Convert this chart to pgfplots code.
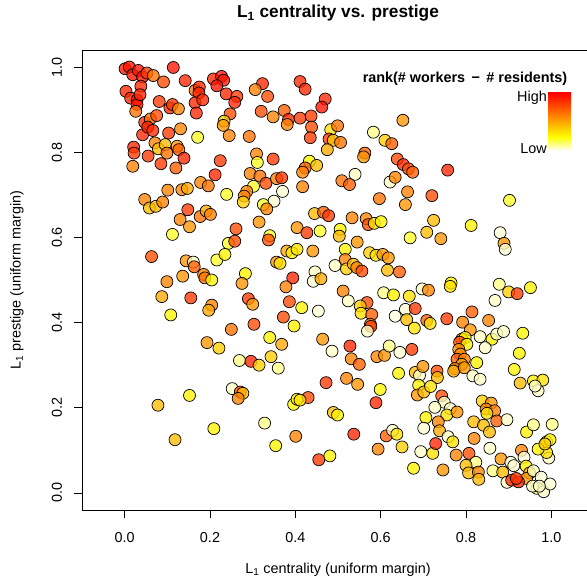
\documentclass[border=0pt]{standalone}
\usepackage{pgfplots}
\pgfplotsset{compat=1.18}
\usepackage{pgfplotstable}
\usepackage{fontspec}
\setmainfont{Liberation Sans}
\pgfdeclareverticalshading{heatbar}{100bp}{rgb(0bp)=(1,1,1); rgb(25bp)=(1,1,1); rgb(37bp)=(1,1,0); rgb(75bp)=(1,0,0); rgb(100bp)=(1,0,0)}
\pgfplotstableread{
x y c
0.114 0.999 0.95
0.001 0.996 0.95
0.011 1.000 0.95
0.019 0.982 0.95
0.032 0.992 0.95
0.042 0.977 0.95
0.052 0.986 0.85
0.067 0.980 0.70
0.091 0.965 0.80
0.142 0.968 0.90
0.208 0.972 0.90
0.227 0.978 0.95
0.232 0.969 0.95
0.216 0.956 0.95
0.003 0.943 0.90
0.038 0.955 0.90
0.014 0.927 0.90
0.029 0.923 0.95
0.029 0.912 0.95
0.026 0.896 0.70
0.036 0.935 0.90
0.081 0.919 0.85
0.106 0.904 0.90
0.112 0.912 0.85
0.126 0.902 0.65
0.165 0.945 0.70
0.175 0.953 0.90
0.174 0.939 0.90
0.165 0.916 0.90
0.183 0.923 0.90
0.168 0.892 0.90
0.238 0.937 0.90
0.263 0.931 0.85
0.258 0.917 0.90
0.323 0.961 0.90
0.306 0.947 0.65
0.335 0.931 0.80
0.320 0.896 0.80
0.348 0.883 0.65
0.374 0.898 0.75
0.384 0.877 0.90
0.381 0.865 0.65
0.247 0.890 0.80
0.233 0.873 0.45
0.231 0.863 0.60
0.047 0.870 0.90
0.060 0.878 0.70
0.075 0.886 0.80
0.042 0.841 0.90
0.054 0.859 0.90
0.066 0.851 0.90
0.103 0.845 0.85
0.131 0.855 0.65
0.171 0.835 0.30
0.245 0.839 0.65
0.292 0.837 0.70
0.021 0.812 0.90
0.022 0.798 0.85
0.019 0.767 0.65
0.071 0.822 0.65
0.079 0.808 0.50
0.095 0.818 0.50
0.099 0.798 0.70
0.123 0.814 0.60
0.127 0.806 0.75
0.055 0.791 0.85
0.085 0.773 0.85
0.120 0.763 0.75
0.139 0.786 0.90
0.224 0.780 0.85
0.212 0.747 0.90
0.309 0.796 0.65
0.348 0.784 0.85
0.311 0.776 0.30
0.294 0.750 0.65
0.317 0.744 0.70
0.331 0.727 0.80
0.356 0.738 0.65
0.368 0.740 0.85
0.302 0.720 0.30
0.286 0.708 0.65
0.280 0.697 0.65
0.278 0.683 0.45
0.239 0.701 0.30
0.350 0.685 0.15
0.370 0.708 0.15
0.325 0.677 0.30
0.333 0.667 0.65
0.101 0.711 0.65
0.134 0.712 0.65
0.147 0.715 0.55
0.178 0.729 0.65
0.196 0.721 0.70
0.047 0.689 0.65
0.058 0.669 0.50
0.073 0.673 0.50
0.089 0.683 0.65
0.148 0.665 0.85
0.130 0.642 0.65
0.152 0.625 0.60
0.177 0.649 0.70
0.191 0.662 0.55
0.201 0.654 0.65
0.112 0.607 0.30
0.261 0.620 0.80
0.315 0.636 0.60
0.340 0.604 0.30
0.337 0.594 0.80
0.243 0.586 0.30
0.258 0.591 0.80
0.404 0.623 0.60
0.411 0.966 0.90
0.423 0.948 0.90
0.470 0.925 0.90
0.462 0.906 0.95
0.411 0.880 0.85
0.437 0.885 0.85
0.438 0.859 0.80
0.435 0.834 0.85
0.483 0.853 0.40
0.499 0.862 0.70
0.479 0.831 0.85
0.489 0.828 0.45
0.506 0.823 0.70
0.475 0.806 0.55
0.652 0.875 0.60
0.583 0.847 0.25
0.610 0.828 0.45
0.626 0.820 0.75
0.433 0.779 0.35
0.423 0.763 0.75
0.417 0.753 0.65
0.450 0.769 0.50
0.563 0.798 0.75
0.560 0.789 0.60
0.639 0.784 0.80
0.653 0.771 0.90
0.665 0.761 0.80
0.675 0.753 0.75
0.757 0.758 0.90
0.540 0.748 0.20
0.622 0.730 0.20
0.634 0.741 0.65
0.509 0.733 0.70
0.527 0.724 0.75
0.417 0.719 0.65
0.597 0.691 0.70
0.663 0.707 0.65
0.658 0.677 0.60
0.720 0.698 0.80
0.902 0.687 0.30
0.445 0.656 0.50
0.466 0.659 0.75
0.478 0.651 0.85
0.533 0.646 0.65
0.566 0.644 0.65
0.571 0.630 0.80
0.585 0.633 0.40
0.601 0.637 0.35
0.724 0.640 0.50
0.812 0.628 0.35
0.880 0.611 0.15
0.889 0.586 0.60
0.708 0.612 0.50
0.741 0.597 0.60
0.669 0.599 0.30
0.427 0.611 0.85
0.458 0.615 0.30
0.505 0.619 0.35
0.503 0.603 0.50
0.545 0.589 0.60
0.063 0.555 0.80
0.144 0.545 0.60
0.161 0.542 0.20
0.163 0.531 0.75
0.216 0.547 0.30
0.235 0.560 0.35
0.136 0.509 0.60
0.099 0.496 0.65
0.185 0.513 0.65
0.188 0.505 0.70
0.204 0.500 0.35
0.283 0.515 0.35
0.275 0.492 0.60
0.356 0.542 0.60
0.364 0.539 0.40
0.380 0.568 0.55
0.392 0.564 0.35
0.404 0.572 0.40
0.394 0.505 0.90
0.378 0.484 0.65
0.087 0.461 0.55
0.155 0.458 0.85
0.290 0.456 0.85
0.300 0.443 0.60
0.204 0.441 0.65
0.197 0.429 0.55
0.386 0.449 0.80
0.108 0.418 0.35
0.372 0.413 0.80
0.397 0.392 0.35
0.250 0.384 0.70
0.303 0.396 0.80
0.193 0.353 0.60
0.221 0.340 0.45
0.340 0.365 0.35
0.368 0.349 0.55
0.269 0.311 0.25
0.296 0.309 0.90
0.315 0.300 0.45
0.343 0.320 0.45
0.360 0.293 0.25
0.252 0.245 0.20
0.271 0.237 0.80
0.277 0.234 0.50
0.266 0.222 0.65
0.152 0.229 0.35
0.078 0.206 0.50
0.396 0.208 0.35
0.404 0.220 0.35
0.209 0.151 0.35
0.118 0.125 0.50
0.328 0.164 0.25
0.354 0.111 0.35
0.401 0.133 0.65
0.441 0.568 0.60
0.517 0.572 0.35
0.574 0.564 0.45
0.589 0.558 0.40
0.605 0.560 0.60
0.618 0.552 0.60
0.892 0.572 0.15
0.493 0.534 0.20
0.517 0.548 0.65
0.520 0.526 0.45
0.536 0.537 0.50
0.544 0.529 0.65
0.556 0.521 0.80
0.616 0.523 0.50
0.644 0.519 0.75
0.446 0.519 0.20
0.442 0.497 0.15
0.460 0.503 0.55
0.512 0.474 0.65
0.524 0.451 0.20
0.568 0.447 0.80
0.552 0.439 0.45
0.554 0.422 0.40
0.579 0.419 0.75
0.576 0.396 0.65
0.577 0.391 0.85
0.569 0.380 0.20
0.415 0.435 0.35
0.454 0.427 0.15
0.607 0.470 0.25
0.630 0.465 0.35
0.667 0.462 0.40
0.697 0.479 0.20
0.712 0.476 0.65
0.765 0.493 0.35
0.763 0.485 0.40
0.878 0.490 0.25
0.900 0.472 0.45
0.920 0.468 0.85
0.951 0.482 0.35
0.868 0.452 0.20
0.658 0.431 0.15
0.634 0.415 0.10
0.661 0.407 0.50
0.681 0.433 0.85
0.679 0.387 0.40
0.708 0.405 0.75
0.716 0.398 0.40
0.755 0.409 0.85
0.814 0.425 0.75
0.792 0.401 0.65
0.810 0.383 0.60
0.853 0.405 0.65
0.833 0.367 0.20
0.861 0.361 0.35
0.872 0.373 0.20
0.888 0.379 0.20
0.845 0.341 0.20
0.933 0.375 0.35
0.790 0.361 0.65
0.798 0.365 0.35
0.785 0.354 0.80
0.802 0.349 0.35
0.783 0.337 0.60
0.787 0.326 0.65
0.779 0.314 0.75
0.796 0.314 0.65
0.790 0.302 0.55
0.774 0.292 0.65
0.771 0.286 0.55
0.796 0.294 0.60
0.825 0.306 0.35
0.816 0.275 0.20
0.833 0.267 0.20
0.925 0.328 0.35
0.913 0.290 0.35
0.927 0.258 0.50
0.958 0.263 0.35
0.969 0.240 0.20
0.980 0.265 0.40
0.962 0.251 0.20
0.464 0.361 0.60
0.486 0.333 0.20
0.528 0.345 0.90
0.531 0.315 0.65
0.550 0.302 0.75
0.591 0.320 0.65
0.609 0.323 0.60
0.620 0.345 0.25
0.645 0.330 0.15
0.673 0.337 0.85
0.642 0.281 0.35
0.472 0.259 0.85
0.520 0.269 0.65
0.546 0.255 0.60
0.599 0.243 0.35
0.589 0.212 0.90
0.430 0.224 0.80
0.411 0.218 0.40
0.489 0.189 0.50
0.499 0.183 0.35
0.537 0.138 0.90
0.455 0.078 0.85
0.481 0.087 0.35
0.613 0.134 0.75
0.628 0.147 0.20
0.638 0.138 0.40
0.594 0.103 0.65
0.650 0.108 0.45
0.677 0.058 0.35
0.694 0.097 0.20
0.722 0.093 0.40
0.729 0.116 0.90
0.746 0.054 0.60
0.681 0.283 0.50
0.691 0.276 0.20
0.699 0.297 0.60
0.732 0.286 0.80
0.733 0.271 0.50
0.689 0.253 0.35
0.686 0.230 0.60
0.701 0.237 0.50
0.717 0.250 0.40
0.743 0.228 0.80
0.749 0.213 0.20
0.727 0.201 0.20
0.763 0.198 0.20
0.755 0.183 0.40
0.779 0.190 0.60
0.706 0.177 0.35
0.701 0.152 0.15
0.735 0.167 0.65
0.738 0.146 0.55
0.758 0.132 0.20
0.769 0.120 0.40
0.777 0.089 0.65
0.807 0.093 0.80
0.823 0.072 0.25
0.800 0.065 0.50
0.806 0.047 0.50
0.829 0.049 0.65
0.830 0.032 0.50
0.818 0.167 0.50
0.841 0.159 0.50
0.855 0.143 0.50
0.838 0.216 0.45
0.859 0.211 0.60
0.847 0.197 0.65
0.867 0.193 0.65
0.872 0.169 0.75
0.896 0.172 0.20
0.849 0.187 0.40
0.819 0.128 0.65
0.856 0.105 0.20
0.882 0.080 0.60
0.863 0.052 0.25
0.886 0.049 0.50
0.905 0.072 0.15
0.912 0.064 0.15
0.930 0.100 0.65
0.936 0.084 0.15
0.941 0.063 0.35
0.949 0.047 0.50
0.942 0.034 0.60
0.958 0.052 0.20
0.976 0.037 0.15
0.966 0.011 0.25
0.982 0.003 0.20
0.997 0.021 0.15
0.994 0.082 0.20
0.989 0.095 0.40
0.989 0.120 0.40
0.997 0.125 0.35
0.969 0.103 0.35
0.985 0.115 0.45
0.942 0.143 0.35
0.958 0.160 0.25
1.002 0.161 0.25
0.896 0.025 0.20
0.907 0.030 0.90
0.923 0.026 0.90
0.918 0.034 0.85
0.956 0.016 0.20
0.972 0.016 0.20
}\pts
\begin{document}
\begin{tikzpicture}
\path[use as bounding box] (0,0) rectangle (587pt,581pt);
\begin{axis}[
  at={(82pt,71pt)}, anchor=south west,
  scale only axis, width=512pt, height=460pt,
  xmin=-0.1, xmax=1.1, ymin=-0.04, ymax=1.04,
  axis line style={line width=0.9pt},
  tick style={line width=0.9pt, black},
  tick align=outside, major tick length=8pt,
  xtick pos=bottom, ytick pos=left,
  xtick={0,0.2,0.4,0.6,0.8,1.0}, xticklabels={0.0,0.2,0.4,0.6,0.8,1.0},
  ytick={0,0.2,0.4,0.6,0.8,1.0}, yticklabels={0.0,0.2,0.4,0.6,0.8,1.0},
  ticklabel style={font=\fontsize{14.4}{17}\selectfont},
  xticklabel style={anchor=center, yshift=-20pt},
  yticklabel style={anchor=center, xshift=-17pt, rotate=90},
  colormap={heatR}{rgb(0pt)=(1,1,1); rgb(22pt)=(1,1,0.75); rgb(32pt)=(1,1,0); rgb(100pt)=(1,0,0)},
  point meta min=0, point meta max=1,
]
\addplot[scatter, only marks, mark=*, mark size=6pt, point meta=explicit,
  scatter/use mapped color={draw=black, fill=mapped color, fill opacity=0.78, line width=0.7pt}]
  table[x=x, y=y, meta=c] {\pts};
\end{axis}
\node[font=\bfseries\fontsize{17.28}{20}\selectfont] at (338pt,568pt) {L\textsubscript{1} centrality vs. prestige};
\node[font=\fontsize{14.4}{17}\selectfont] at (338pt,11pt) {L\textsubscript{1} centrality (uniform margin)};
\node[font=\fontsize{14.4}{17}\selectfont, rotate=90] at (17pt,301pt) {L\textsubscript{1} prestige (uniform margin)};
\node[font=\bfseries\fontsize{14.4}{17}\selectfont] at (465pt,502pt) {rank(\# workers \,−\, \# residents)};
\shade[shading=heatbar] (548pt,430pt) rectangle (571pt,488pt);
\node[font=\fontsize{14.4}{17}\selectfont, anchor=east, inner sep=0pt] at (547pt,483pt) {High};
\node[font=\fontsize{14.4}{17}\selectfont, anchor=east, inner sep=0pt] at (547pt,432pt) {Low};
\end{tikzpicture}
\end{document}
